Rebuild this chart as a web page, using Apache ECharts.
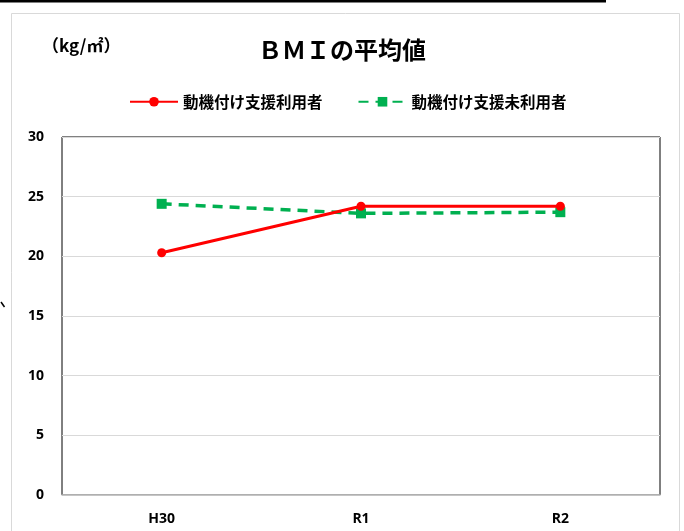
<!DOCTYPE html>
<html>
<head>
<meta charset="utf-8">
<script src="https://cdn.jsdelivr.net/npm/echarts@6/dist/echarts.min.js"></script>
<style>html,body{margin:0;padding:0;background:#fff;}#c{width:684px;height:531px;}</style>
</head>
<body>
<div id="c"></div>
<script>
const categories = ['H30', 'R1', 'R2'];
const seriesNames = ['動機付け支援利用者', '動機付け支援未利用者'];
const usersValues = [20.3, 24.2, 24.2];
const nonUsersValues = [24.4, 23.6, 23.7];
const yTicks = { min: 0, max: 30, interval: 5 };

const jp = '"Noto Sans CJK JP", "Noto Sans", sans-serif';
const num = '"Open Sans", "Liberation Sans", sans-serif';
const chart = echarts.init(document.getElementById('c'));
chart.setOption({
  animation: false,
  backgroundColor: '#fff',
  title: {
    text: 'ＢＭＩの平均値',
    left: 'center', top: 33,
    textStyle: { fontFamily: jp, fontSize: 24, fontWeight: 'bold', color: '#000' }
  },
  legend: {
    left: 124, top: 89,
    itemWidth: 48, itemHeight: 12, itemGap: 35,
    textStyle: { fontFamily: jp, fontSize: 15.5, fontWeight: 'bold', color: '#000' },
    data: seriesNames
  },
  grid: {
    left: 62, right: 24, top: 137, bottom: 36,
    show: true, borderColor: '#000', borderWidth: 1, backgroundColor: 'transparent'
  },
  xAxis: {
    type: 'category', data: categories, boundaryGap: true,
    axisLine: { show: true, lineStyle: { color: '#bfbfbf', width: 1.5 } },
    axisTick: { show: false },
    axisLabel: { margin: 17, fontFamily: num, fontSize: 14, fontWeight: 'bold', color: '#000' }
  },
  yAxis: {
    type: 'value', min: yTicks.min, max: yTicks.max, interval: yTicks.interval,
    axisLine: { show: false }, axisTick: { show: false },
    splitLine: { lineStyle: { color: '#d9d9d9', width: 1 } },
    axisLabel: { margin: 18, fontFamily: num, fontSize: 14, fontWeight: 'bold', color: '#000' }
  },
  series: [
    {
      name: seriesNames[0], type: 'line', data: usersValues,
      symbol: 'circle', symbolSize: 9,
      itemStyle: { color: '#ff0000' },
      lineStyle: { color: '#ff0000', width: 3 },
      z: 3
    },
    {
      name: seriesNames[1], type: 'line', data: nonUsersValues,
      symbol: 'rect', symbolSize: 10,
      itemStyle: { color: '#00b050' },
      lineStyle: { color: '#00b050', width: 3.5, type: [10, 7] },
      z: 2
    }
  ],
  graphic: [
    { type: 'rect', shape: { x: 0, y: 0, width: 606, height: 2.5 }, style: { fill: '#000' }, silent: true },
    { type: 'rect', shape: { x: 11.5, y: 13.5, width: 668, height: 530 }, style: { fill: 'none', stroke: '#d9d9d9', lineWidth: 1 }, silent: true, z: -1 },
    { type: 'text', left: 42, top: 37, style: { text: '（kg/㎡）', font: 'bold 17px ' + jp, fill: '#000' } },
    { type: 'line', shape: { x1: 1, y1: 302, x2: 4.5, y2: 307 }, style: { stroke: '#000', lineWidth: 1.5 }, silent: true }
  ]
});
</script>
</body>
</html>
